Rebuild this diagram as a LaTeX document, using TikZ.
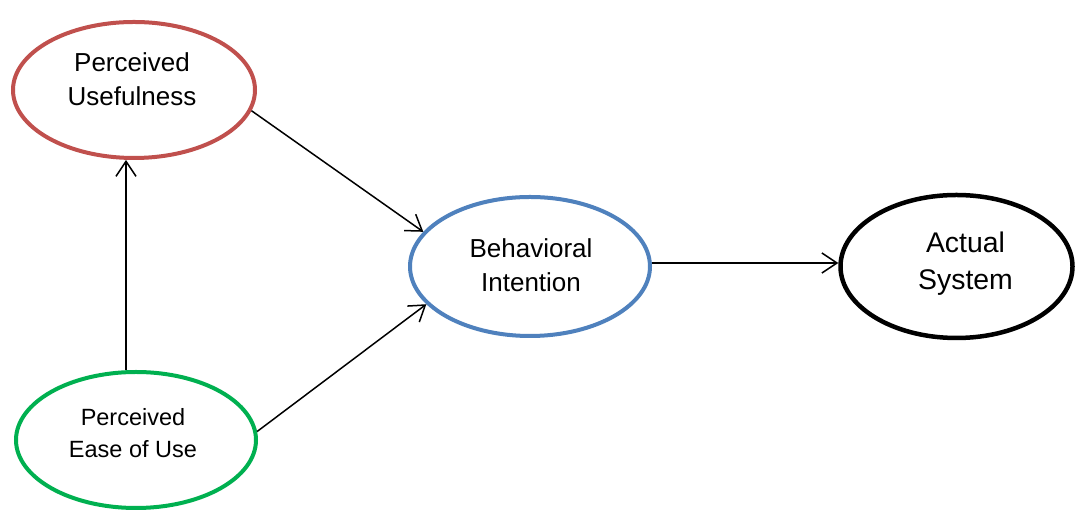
\documentclass[tikz,border=0pt]{standalone}
\usepackage{fontspec}
\setmainfont{Liberation Sans}
\usetikzlibrary{shapes.geometric,arrows.meta}
\definecolor{puRed}{HTML}{C0504D}
\definecolor{peuGreen}{HTML}{00B050}
\definecolor{biBlue}{HTML}{4F81BD}
\tikzset{
  ell/.style={ellipse, draw, line width=4pt, inner sep=0pt, fill=white},
  lbl/.style={align=center, inner sep=0pt, text=black},
  conn/.style={line width=1.5pt, -{Straight Barb[length=15pt,width=20pt,line width=1.5pt]}}
}
\begin{document}
\begin{tikzpicture}[x=1pt,y=1pt]
\useasboundingbox (0,0) rectangle (1076,513);
% ellipses
\node[ell, draw=puRed, minimum width=242pt, minimum height=136pt] (PU) at (134,423) {};
\node[ell, draw=peuGreen, minimum width=240pt, minimum height=136pt] (PEU) at (136,73) {};
\node[ell, draw=biBlue, minimum width=240pt, minimum height=139pt] (BI) at (530,246.5) {};
\node[ell, draw=black, line width=4.5pt, minimum width=232pt, minimum height=143pt] (AS) at (956.5,246.5) {};
% labels
\node[lbl, font=\fontsize{26}{34.3}\selectfont] (PUt) at (132,433.5) {Perceived\\Usefulness};
\node[lbl, font=\fontsize{23.5}{32}\selectfont] (PEUt) at (133,79.6) {Perceived\\Ease of Use};
\node[lbl, font=\fontsize{26}{34}\selectfont] (BIt) at (531,247.6) {Behavioral\\Intention};
\node[lbl, font=\fontsize{28.4}{37.3}\selectfont] (ASt) at (965.5,249) {Actual\\System};
% connectors
\draw[conn] (PU.-10) -- (BI.162);
\draw[conn] (PEU.4) -- (BI.200);
\draw[conn] ([xshift=-10pt]PEU.north) -- ([xshift=-10pt]PEU.north |- PU.south);
\draw[conn] ([yshift=3.5pt]BI.east) -- ([yshift=3.5pt]BI.east -| AS.west);
\end{tikzpicture}
\end{document}
